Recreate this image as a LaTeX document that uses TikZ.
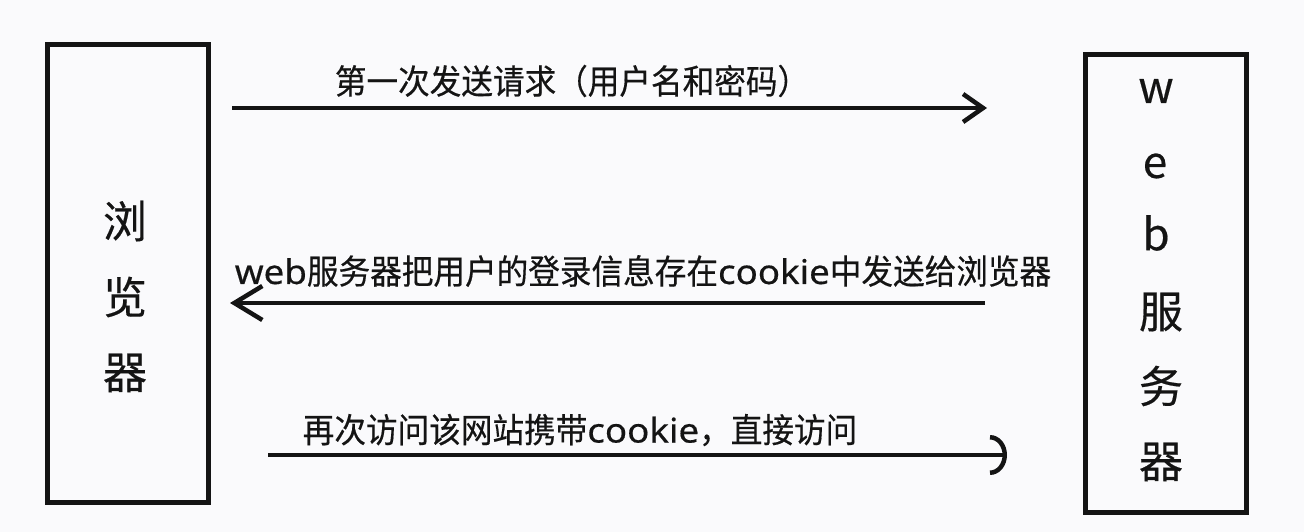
\documentclass[tikz,border=0pt]{standalone}
\usepackage{fontspec}
\setmainfont{Noto Sans CJK SC}
\newfontfamily\lblfont[FakeStretch=0.93,FakeBold=0.4]{Noto Sans CJK SC}
\newfontfamily\latfont[FakeStretch=1.08,FakeBold=0.4]{Noto Sans}
\newfontfamily\boxfont[FakeBold=0.4]{Noto Sans CJK SC}
\usetikzlibrary{arrows.meta}
\definecolor{bg}{RGB}{250,250,252}
\definecolor{ink}{RGB}{20,20,20}
\begin{document}
\begin{tikzpicture}[x=1pt,y=-1pt,
  box/.style={draw=ink,line width=5pt,minimum width=161pt,minimum height=458pt,inner sep=0pt},
  bigch/.style={font=\boxfont\fontsize{44}{44}\selectfont,text=ink,inner sep=0pt},
  lbl/.style={font=\lblfont\fontsize{34}{34}\selectfont,text=ink,inner sep=0pt},
  conn/.style={draw=ink,line width=4.5pt}]
\fill[bg] (0,0) rectangle (1304,532);
\useasboundingbox (0,0) rectangle (1304,532);
% boxes
\node[box] (browser) at (127.75,273.75) {};
\node[box] (server) at (1165.85,283.35) {};
% box texts
\node[bigch] (b1) at (125,221) {浏};
\node[bigch] (b2) at (125,297) {览};
\node[bigch] (b3) at (125,373) {器};
\node[bigch] (s1) at (1156,91) {w};
\node[bigch] (s2) at (1155,166) {e};
\node[bigch] (s3) at (1156,233) {b};
\node[bigch] (s4) at (1161,312) {服};
\node[bigch] (s5) at (1161,386) {务};
\node[bigch] (s6) at (1161,462) {器};
% connector ends
\coordinate (a1s) at (232,108);
\coordinate (a1e) at (987,108);
\coordinate (a2s) at (985,303);
\coordinate (a2e) at (230,303);
\coordinate (a3s) at (268,455);
\coordinate (a3e) at (1007,455);
% connectors
\draw[conn,-{Straight Barb[length=20pt,width=28pt]}] (a1s) -- (a1e);
\draw[conn,-{Straight Barb[length=28pt,width=34pt]}] (a2s) -- (a2e);
\draw[conn,-{Arc Barb[length=17pt,width=40pt]}] (a3s) -- (a3e);
% labels
\node[lbl] (t1) at (572,81) {第一次发送请求（用户名和密码）};
\node[lbl] (t2) at (643,271) {{\latfont web}服务器把用户的登录信息存在{\latfont cookie}中发送给浏览器};
\node[lbl] (t3) at (580,430) {再次访问该网站携带{\latfont cookie}，直接访问};
\end{tikzpicture}
\end{document}
